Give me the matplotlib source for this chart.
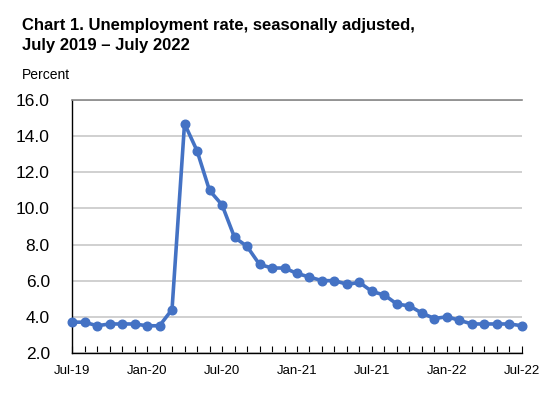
import matplotlib.pyplot as plt

plt.rcParams['font.family'] = ['Liberation Sans', 'DejaVu Sans']

# monthly unemployment rate, Jul 2019 - Jul 2022
rates = [3.7, 3.7, 3.5, 3.6, 3.6, 3.6, 3.5, 3.5, 4.4, 14.7, 13.2, 11.0, 10.2,
         8.4, 7.9, 6.9, 6.7, 6.7, 6.4, 6.2, 6.0, 6.0, 5.8, 5.9, 5.4, 5.2,
         4.7, 4.6, 4.2, 3.9, 4.0, 3.8, 3.6, 3.6, 3.6, 3.6, 3.5]
month_labels = ["Jul-19", "Jan-20", "Jul-20", "Jan-21", "Jul-21", "Jan-22", "Jul-22"]
y_ticks = [2.0, 4.0, 6.0, 8.0, 10.0, 12.0, 14.0, 16.0]

blue = "#4472C4"

fig = plt.figure(figsize=(5.5, 3.96), dpi=100)
ax = fig.add_axes([0.131, 0.109, 0.818, 0.638])

months = list(range(len(rates)))
ax.plot(months, rates, color=blue, linewidth=2.6, marker='o', markersize=6.2,
        zorder=3, clip_on=False)

ax.set_ylim(2, 16)
ax.set_xlim(0, len(rates) - 1)
ax.set_yticks(y_ticks)
ax.set_yticklabels([f"{v:.1f}" for v in y_ticks], fontsize=12.5)
ax.yaxis.grid(True, color="#c8c8c8", linewidth=1.2)
ax.set_axisbelow(True)
ax.tick_params(axis='y', length=0, pad=16)
ax.spines['top'].set_color("#888888")
ax.spines['top'].set_linewidth(1.2)

ax.set_xticks(months[::6])
ax.set_xticklabels(month_labels, fontsize=9.5)
ax.set_xticks(months, minor=True)
ax.tick_params(axis='x', which='both', direction='in', length=5, width=0.8, pad=9)

ax.spines['right'].set_visible(False)
ax.spines['left'].set_linewidth(1.0)
ax.spines['bottom'].set_linewidth(1.0)

fig.text(0.04, 0.923, "Chart 1. Unemployment rate, seasonally adjusted,",
         fontsize=12, fontweight='bold')
fig.text(0.04, 0.873, "July 2019 \u2013 July 2022", fontsize=12, fontweight='bold')
fig.text(0.04, 0.8, "Percent", fontsize=10)

fig.savefig("out.png", dpi=100)
